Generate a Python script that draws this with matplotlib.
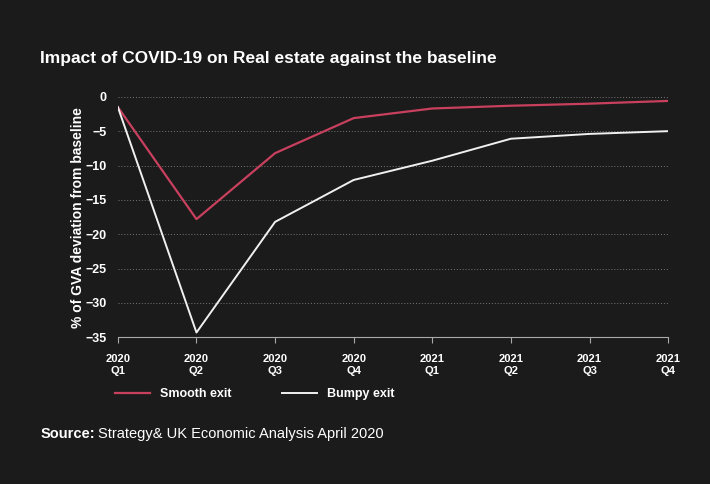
import matplotlib
matplotlib.use("Agg")
import matplotlib.pyplot as plt

quarters = ["2020\nQ1","2020\nQ2","2020\nQ3","2020\nQ4","2021\nQ1","2021\nQ2","2021\nQ3","2021\nQ4"]
smooth = [-1.5, -17.8, -8.2, -3.1, -1.7, -1.3, -1.0, -0.6]
bumpy = [-1.5, -34.3, -18.2, -12.1, -9.3, -6.1, -5.4, -5.0]
yticks = [0, -5, -10, -15, -20, -25, -30, -35]

bg = "#1b1b1b"
plt.rcParams['font.family'] = ['Liberation Sans', 'DejaVu Sans']
fig = plt.figure(figsize=(7.10, 4.84), dpi=100, facecolor=bg)
ax = fig.add_axes([0.166, 0.303, 0.775, 0.497], facecolor=bg)
x = list(range(len(quarters)))
ax.plot(x, smooth, color="#c8405e", lw=1.6, label="Smooth exit")
ax.plot(x, bumpy, color="#f0f0f0", lw=1.4, label="Bumpy exit")
ax.set_xlim(0, 7)
ax.set_ylim(-35, 0)
ax.set_yticks(yticks)
ax.set_xticks(x)
ax.set_xticklabels(quarters)
for y in yticks[:-1]:
    ax.axhline(y, color="#777777", lw=0.7, ls=(0, (1, 2)), zorder=0)
for s in ["top", "right", "left"]:
    ax.spines[s].set_visible(False)
ax.spines["bottom"].set_color("#aaaaaa")
ax.tick_params(colors="white", labelsize=9, length=0, pad=8)
ax.tick_params(axis='x', length=4, color="#aaaaaa", labelsize=8)
for t in ax.get_xticklabels() + ax.get_yticklabels():
    t.set_fontweight("bold")
ax.set_ylabel("% of GVA deviation from baseline", color="white", fontsize=10, fontweight="bold", labelpad=0)
fig.text(0.057, 0.87, "Impact of COVID-19 on Real estate against the baseline", color="white",
         fontsize=12.5, fontweight="bold")
ax.legend(loc="upper left", bbox_to_anchor=(-0.025, -0.165), ncol=2, frameon=False,
          labelcolor="white", prop={"weight": "bold", "size": 9}, handlelength=2.8, columnspacing=4)
fig.text(0.057, 0.095, "Source:", color="white", fontsize=10.5, fontweight="bold")
fig.text(0.138, 0.095, "Strategy& UK Economic Analysis April 2020", color="white", fontsize=10.5)
fig.savefig("out.png", dpi=100, facecolor=bg)
